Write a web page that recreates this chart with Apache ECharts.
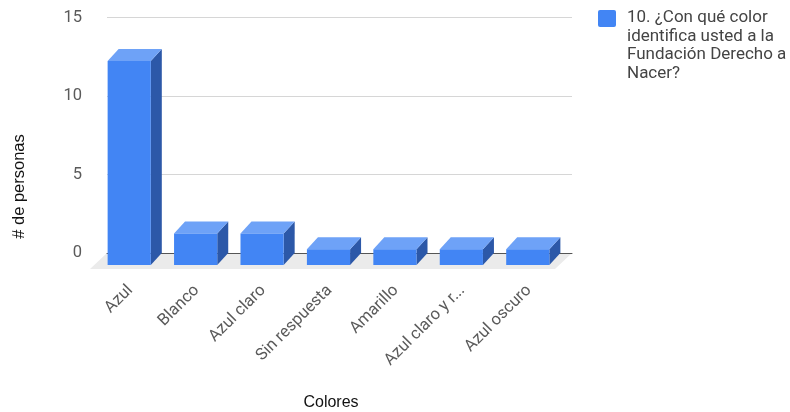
<!DOCTYPE html>
<html>
<head>
<meta charset="utf-8">
<script src="https://cdn.jsdelivr.net/npm/echarts@6/dist/echarts.min.js"></script>
<style>
  html, body { margin: 0; padding: 0; background: #fff; }
  #chart { width: 790px; height: 412px; }
</style>
</head>
<body>
<div id="chart"></div>
<script>
// Respuestas a la pregunta 10 de la encuesta
const categories = ['Azul', 'Blanco', 'Azul claro', 'Sin respuesta', 'Amarillo', 'Azul claro y r...', 'Azul oscuro'];
const personas = [13, 2, 2, 1, 1, 1, 1];
const yTicks = [0, 5, 10, 15];
const seriesName = '10. ¿Con qué color\nidentifica usted a la\nFundación Derecho a\nNacer?';

// Desplazamiento de la cara frontal respecto al plano del fondo (efecto 3D)
const DEPTH_X = -11;
const DEPTH_Y = 12;
const FLOOR_X = -17;
const FLOOR_Y = 16;

const FRONT = '#4285f4';
const TOP = '#6ea2f7';
const SIDE = '#2c58a8';

const chart = echarts.init(document.getElementById('chart'), null, { renderer: 'canvas' });

function renderBar(params, api) {
  const idx = api.value(0);
  const v = api.value(1);
  const top = api.coord([idx, v]);
  const base = api.coord([idx, 0]);
  const band = api.size([1, 0])[0];
  const w = band * 0.65;
  const x0 = top[0] - w / 2;
  const x1 = top[0] + w / 2;
  const ty = top[1];
  const by = base[1];
  return {
    type: 'group',
    children: [
      {
        type: 'polygon',
        shape: { points: [[x1 + DEPTH_X, ty + DEPTH_Y], [x1, ty], [x1, by], [x1 + DEPTH_X, by + DEPTH_Y]] },
        style: { fill: SIDE }
      },
      {
        type: 'polygon',
        shape: { points: [[x0 + DEPTH_X, ty + DEPTH_Y], [x0, ty], [x1, ty], [x1 + DEPTH_X, ty + DEPTH_Y]] },
        style: { fill: TOP }
      },
      {
        type: 'rect',
        shape: { x: x0 + DEPTH_X, y: ty + DEPTH_Y, width: w, height: by - ty },
        style: { fill: FRONT }
      }
    ]
  };
}

function renderFloor(params, api) {
  if (params.dataIndex !== 0) return null;
  const cs = params.coordSys;
  const y = cs.y + cs.height;
  return {
    type: 'polygon',
    shape: {
      points: [
        [cs.x, y],
        [cs.x + cs.width, y],
        [cs.x + cs.width + FLOOR_X, y + FLOOR_Y],
        [cs.x + FLOOR_X, y + FLOOR_Y]
      ]
    },
    style: { fill: '#ebebeb' }
  };
}

const option = {
  animation: false,
  textStyle: { fontFamily: 'Roboto, Arial, sans-serif' },
  grid: { left: 107, right: 218, top: 17.5, bottom: 159, containLabel: false },
  xAxis: {
    type: 'category',
    data: categories,
    z: 1,
    axisLine: { show: true, lineStyle: { color: '#555', width: 1 } },
    axisTick: { show: false },
    axisLabel: {
      rotate: 45,
      margin: 25,
      interval: 0,
      padding: [0, 14, 0, 0],
      color: '#5a5a5a',
      fontSize: 16.5,
      fontFamily: 'Roboto, Arial, sans-serif'
    },
    splitLine: { show: false }
  },
  yAxis: {
    type: 'value',
    min: yTicks[0],
    max: yTicks[yTicks.length - 1],
    interval: 5,
    axisLine: { show: false },
    axisTick: { show: false },
    axisLabel: {
      margin: 25,
      color: '#5a5a5a',
      fontSize: 16.5,
      fontFamily: 'Roboto, Arial, sans-serif'
    },
    splitLine: { lineStyle: { color: '#d6d6d6', width: 1 } }
  },
  graphic: [
    {
      type: 'text',
      rotation: Math.PI / 2,
      x: 19,
      y: 186.5,
      style: {
        text: '# de personas',
        font: '16.5px "Liberation Sans", Arial, sans-serif',
        fill: '#111',
        textAlign: 'center',
        textVerticalAlign: 'middle'
      }
    },
    {
      type: 'text',
      x: 331,
      y: 403,
      style: {
        text: 'Colores',
        font: '16px "Liberation Sans", Arial, sans-serif',
        fill: '#111',
        textAlign: 'center',
        textVerticalAlign: 'middle'
      }
    },
    // Leyenda de la serie
    {
      type: 'rect',
      shape: { x: 598, y: 10, width: 18, height: 17, r: 2 },
      style: { fill: FRONT }
    },
    {
      type: 'text',
      x: 627,
      y: 9,
      style: {
        text: seriesName,
        font: '17px Roboto, Arial, sans-serif',
        lineHeight: 18.4,
        fill: '#444',
        textAlign: 'left',
        textVerticalAlign: 'top'
      }
    }
  ],
  series: [
    {
      type: 'custom',
      name: '__floor',
      silent: true,
      z: 0,
      renderItem: renderFloor,
      data: [[0, 0]]
    },
    {
      type: 'custom',
      name: seriesName,
      z: 2,
      itemStyle: { color: FRONT },
      renderItem: renderBar,
      encode: { x: 0, y: 1 },
      data: categories.map((c, i) => [i, personas[i]])
    }
  ]
};

chart.setOption(option);
</script>
</body>
</html>
